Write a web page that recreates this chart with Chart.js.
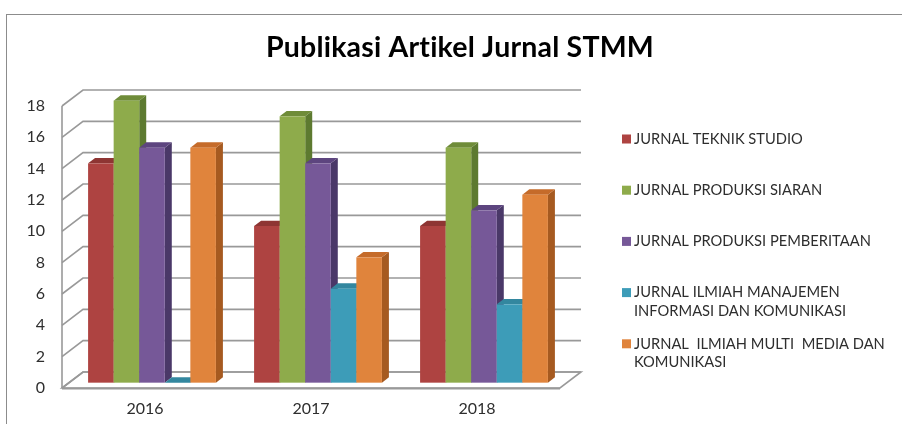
<!DOCTYPE html>
<html>
<head>
<meta charset="utf-8">
<script src="https://cdn.jsdelivr.net/npm/chart.js@4.4.1/dist/chart.umd.min.js"></script>
<style>
  html, body { margin: 0; padding: 0; background: #fff; overflow: hidden; }
  #wrap { position: relative; width: 902px; height: 424px; }
  #frame { position: absolute; left: 6px; top: 14px; width: 1000px; height: 600px; border: 1px solid #8c8c8c; }
  canvas { position: absolute; left: 0; top: 0; }
</style>
</head>
<body>
<div id="wrap">
  <div id="frame"></div>
  <canvas id="chart" width="902" height="424"></canvas>
</div>
<script>
const chartTitle = 'Publikasi Artikel Jurnal STMM';
const years = ['2016', '2017', '2018'];
const seriesNames = [
    ['JURNAL TEKNIK STUDIO'],
    ['JURNAL PRODUKSI SIARAN'],
    ['JURNAL PRODUKSI PEMBERITAAN'],
    ['JURNAL ILMIAH MANAJEMEN', 'INFORMASI DAN KOMUNIKASI'],
    ['JURNAL  ILMIAH MULTI  MEDIA DAN', 'KOMUNIKASI']
];
const teknikStudio = [14, 10, 10];
const produksiSiaran = [18, 17, 15];
const produksiPemberitaan = [15, 14, 11];
const manajemenInformasi = [0, 6, 5];
const multiMedia = [15, 8, 12];

// front, side, top shades per series
const frontColors = ['#ae4341', '#8eab4b', '#765898', '#3d9cb8', '#e0843c'];
const sideColors = ['#7c2e2d', '#5d7a30', '#4a3868', '#2c7890', '#a65a20'];
const topColors = ['#8e3533', '#6f8c39', '#5d457f', '#33879f', '#c56b2a'];

const FONT = 'Lato, "Open Sans", sans-serif';
const DX = 21, DY = -16;   // depth of the 3d box
const gridColor = '#999999';

const bar3d = {
    id: 'bar3d',
    beforeDatasetsDraw(chart) {
        const ctx = chart.ctx;
        const area = chart.chartArea;
        const y = chart.scales.y;
        ctx.save();
        // floor
        const y0 = y.getPixelForValue(0);
        ctx.beginPath();
        ctx.moveTo(area.left, y0);
        ctx.lineTo(area.right, y0);
        ctx.lineTo(area.right + DX, y0 + DY);
        ctx.lineTo(area.left + DX, y0 + DY);
        ctx.closePath();
        ctx.fillStyle = '#fff';
        ctx.fill();
        ctx.strokeStyle = gridColor;
        ctx.lineWidth = 1.6;
        ctx.stroke();
        // back wall + side wall gridlines
        y.ticks.forEach(t => {
            const py = y.getPixelForValue(t.value);
            ctx.beginPath();
            ctx.moveTo(area.left, py);
            ctx.lineTo(area.left + DX, py + DY);
            ctx.lineTo(area.right + DX, py + DY);
            ctx.stroke();
        });
        // left wall front edge
        ctx.beginPath();
        ctx.moveTo(area.left, y.getPixelForValue(y.max));
        ctx.lineTo(area.left, y0);
        ctx.stroke();
        // front floor edge
        ctx.lineWidth = 2;
        ctx.beginPath();
        ctx.moveTo(area.left, y0 + 0.5);
        ctx.lineTo(area.right, y0 + 0.5);
        ctx.stroke();

        const dx = DX / 3, dy = DY / 3;
        chart.data.datasets.forEach((ds, i) => {
            const meta = chart.getDatasetMeta(i);
            meta.data.forEach(el => {
                const p = el.getProps(['x', 'y', 'base', 'width'], true);
                const x0 = p.x - p.width / 2 + dx, x1 = p.x + p.width / 2 + dx;
                const top = p.y + dy, base = p.base + dy;
                // side
                ctx.fillStyle = sideColors[i];
                ctx.beginPath();
                ctx.moveTo(x1, top);
                ctx.lineTo(x1 + dx, top + dy);
                ctx.lineTo(x1 + dx, base + dy);
                ctx.lineTo(x1, base);
                ctx.closePath();
                ctx.fill();
                // top
                ctx.fillStyle = topColors[i];
                ctx.beginPath();
                ctx.moveTo(x0, top);
                ctx.lineTo(x1, top);
                ctx.lineTo(x1 + dx, top + dy);
                ctx.lineTo(x0 + dx, top + dy);
                ctx.closePath();
                ctx.fill();
                // front
                ctx.fillStyle = frontColors[i];
                ctx.fillRect(x0, top, x1 - x0, base - top);
            });
        });
        ctx.restore();
        return false;
    },
    afterDraw(chart) {
        const ctx = chart.ctx;
        ctx.save();
        // title, centred on the whole frame (letter spacing keeps "ti" from ligating)
        ctx.font = 'bold 28.5px ' + FONT;
        ctx.letterSpacing = '0.2px';
        ctx.fillStyle = '#000';
        ctx.textAlign = 'center';
        ctx.textBaseline = 'middle';
        ctx.fillText(chartTitle, 460, 48);
        ctx.letterSpacing = '0px';
        // legend at the right
        ctx.textAlign = 'left';
        ctx.font = '14.7px ' + FONT;
        chart.data.datasets.forEach((ds, i) => {
            const cy = 139 + i * 51.2;
            ctx.fillStyle = frontColors[i];
            ctx.fillRect(622, cy - 4.5, 9, 9);
            ctx.fillStyle = '#2e2e2e';
            ds.label.forEach((line, j) => {
                ctx.fillText(line, 634, cy + j * 18.5);
            });
        });
        ctx.restore();
    }
};

new Chart(document.getElementById('chart'), {
    type: 'bar',
    data: {
        labels: years,
        datasets: [
            {label: seriesNames[0], data: teknikStudio, backgroundColor: frontColors[0]},
            {label: seriesNames[1], data: produksiSiaran, backgroundColor: frontColors[1]},
            {label: seriesNames[2], data: produksiPemberitaan, backgroundColor: frontColors[2]},
            {label: seriesNames[3], data: manajemenInformasi, backgroundColor: frontColors[3]},
            {label: seriesNames[4], data: multiMedia, backgroundColor: frontColors[4]}
        ]
    },
    options: {
        responsive: false,
        animation: false,
        layout: {padding: {left: 0, right: 342, top: 106, bottom: 6}},
        datasets: {bar: {categoryPercentage: 0.77, barPercentage: 1.0}},
        plugins: {
            legend: {display: false},
            tooltip: {enabled: false},
            title: {display: false}
        },
        scales: {
            x: {
                grid: {display: false, drawTicks: false},
                border: {display: false},
                ticks: {color: '#2e2e2e', padding: 11, font: {family: FONT, size: 16}},
                afterFit(scale) { scale.height = 30; }
            },
            y: {
                min: 0,
                max: 18,
                grid: {display: false, drawTicks: false},
                border: {display: false},
                ticks: {stepSize: 2, color: '#2e2e2e', padding: 17, font: {family: FONT, size: 16}},
                afterFit(scale) { scale.width = 62; }
            }
        }
    },
    plugins: [bar3d]
});
</script>
</body>
</html>
